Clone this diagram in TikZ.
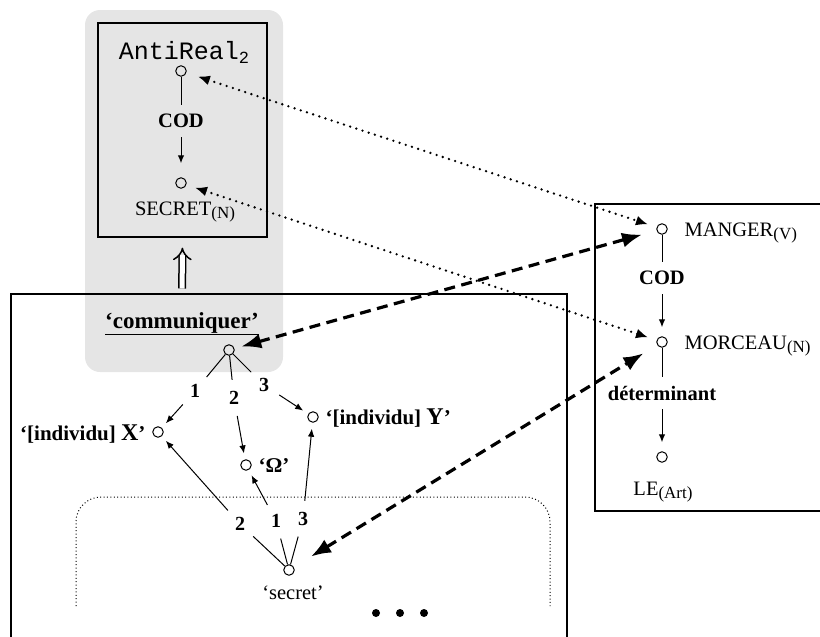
\documentclass[tikz,border=0pt]{standalone}
\usepackage{fontspec}
\setmainfont{Liberation Serif}
\newfontfamily\codefont{Liberation Mono}
\usetikzlibrary{arrows.meta}
\definecolor{boxgray}{gray}{0.9}
\newcommand{\lowsub}[1]{\raisebox{-0.35ex}{\fontsize{17}{17}\selectfont #1}}

\begin{document}
\begin{tikzpicture}[x=1pt,y=-1pt,
		font=\fontsize{20.5}{24}\selectfont,
		pt/.style={circle,draw,line width=1pt,inner sep=0pt,minimum size=10.5pt},
		num/.style={circle,inner sep=0pt,minimum size=36pt,font=\fontsize{20}{24}\selectfont\bfseries},
		rellab/.style={inner sep=9pt,font=\fontsize{20.5}{24}\selectfont\bfseries},
		rel/.style={line width=1pt},
		relarrow/.style={line width=1pt,-{Latex[length=8pt,width=6.5pt]},shorten >=6pt},
		corr/.style={line width=3.2pt,dash pattern=on 11pt off 6.5pt,{Latex[length=20pt,width=15pt]}-{Latex[length=20pt,width=15pt]}},
		link/.style={line width=2.6pt,line cap=round,dash pattern=on 0pt off 6.5pt,{Latex[length=12pt,width=10pt]}-{Latex[length=12pt,width=10pt]}},
		frame/.style={line width=1.3pt}]
		
		\useasboundingbox (0,0) rectangle (820,637);
		\clip (0,0) rectangle (820,637);
		
		\fill[boxgray, rounded corners=15pt] (85,10) rectangle (283,372);
		
		\node[draw, frame, inner sep=0pt, minimum width=169pt, minimum height=214pt] (arbox) at (182.5,130) {};
		\draw[frame] (11,650) -- (11,294) -- (567,294) -- (567,650);
		\draw[frame] (830,204) -- (595,204) -- (595,511) -- (830,511);
		\draw[line width=1pt, dash pattern=on 1pt off 2.4pt, rounded corners=25pt] (76,606) -- (76,497) -- (550,497) -- (550,606);
		
		% AntiReal
		\node[anchor=base, font=\codefont\fontsize{25}{30}\selectfont] (antireal) at (184,59) {AntiReal\lowsub{2}};
		\node[pt] (ar1) at (181,71) {};
		\node[rellab] (cod1) at (181,121) {COD};
		\node[pt] (ar2) at (181,183) {};
		\node[anchor=base] (secretN) at (185,215) {SECRET\lowsub{(N)}};
		\draw[rel] (ar1) -- (cod1);
		\draw[relarrow, shorten >=14pt] (cod1) -- (ar2);
		
		% communiquer
		\node[anchor=base, font=\fontsize{23}{27}\selectfont\bfseries] (commlab) at (182,328) {\underline{‘communiquer’}};
		\draw[line width=1.5pt, double, double distance=5pt, -{Implies}, shorten <=20pt, shorten >=10pt] (commlab.north) -- (arbox.south);
		\node[pt] (comm) at (229,350) {};
		\node[num] (c1) at (195,391) {1};
		\node[num] (c2) at (234,398) {2};
		\node[num] (c3) at (264,385) {3};
		\node[pt] (X) at (158,432) {};
		\node[pt] (Om) at (246,465) {};
		\node[pt] (Y) at (313,417) {};
		\node[anchor=base east, font=\fontsize{21}{24}\selectfont\bfseries] (Xlab) at (149,440) {‘[individu] {\fontsize{24}{24}\selectfont X}’};
		\node[anchor=base west, font=\fontsize{21}{24}\selectfont\bfseries] (Ylab) at (322,424) {‘[individu] {\fontsize{24}{24}\selectfont Y}’};
		\node[anchor=base west, font=\fontsize{21}{24}\selectfont\bfseries] (Omlab) at (255,472) {‘Ω’};
		\draw[rel] (comm) -- (c1);
		\draw[relarrow] (c1) -- (X);
		\draw[rel] (comm) -- (c2);
		\draw[relarrow] (c2) -- (Om);
		\draw[rel] (comm) -- (c3);
		\draw[relarrow] (c3) -- (Y);
		
		% secret
		\node[pt] (sec) at (289,570) {};
		\node[anchor=base] (seclab) at (293,599) {‘secret’};
		\node[num] (s2) at (240,524) {2};
		\node[num] (s1) at (276,521) {1};
		\node[num] (s3) at (303,519) {3};
		\draw[rel] (sec) -- (s2);
		\draw[relarrow] (s2) -- (X);
		\draw[rel] (sec) -- (s1);
		\draw[relarrow] (s1) -- (Om);
		\draw[rel] (sec) -- (s3);
		\draw[relarrow] (s3) -- (Y);
		\foreach \i in {376,400,424}
			\fill (\i,613) circle (4pt);
		
		% MANGER
		\node[pt] (manger) at (662,229) {};
		\node[anchor=base west] (mangerlab) at (681,236) {MANGER\lowsub{(V)}};
		\node[rellab] (cod2) at (662,278) {COD};
		\node[pt] (morceau) at (662,342) {};
		\node[anchor=base west] (morceaulab) at (681,349) {MORCEAU\lowsub{(N)}};
		\node[rellab] (det) at (662,393) {déterminant};
		\node[pt] (le) at (662,457) {};
		\node[anchor=base] (lelab) at (663,495) {LE\lowsub{(Art)}};
		\draw[rel] (manger) -- (cod2);
		\draw[relarrow, shorten >=9pt] (cod2) -- (morceau);
		\draw[rel] (morceau) -- (det);
		\draw[relarrow, shorten >=9pt] (det) -- (le);
		
		% correspondences
		\draw[link, shorten <=12pt, shorten >=9pt] (ar1) -- (manger);
		\draw[link, shorten <=9pt, shorten >=9pt] (ar2) -- (morceau);
		\draw[corr, shorten <=7pt, shorten >=15pt] (comm) -- (manger);
		\draw[corr, shorten <=20pt, shorten >=16pt] (sec) -- (morceau);
		
	\end{tikzpicture}
\end{document}
